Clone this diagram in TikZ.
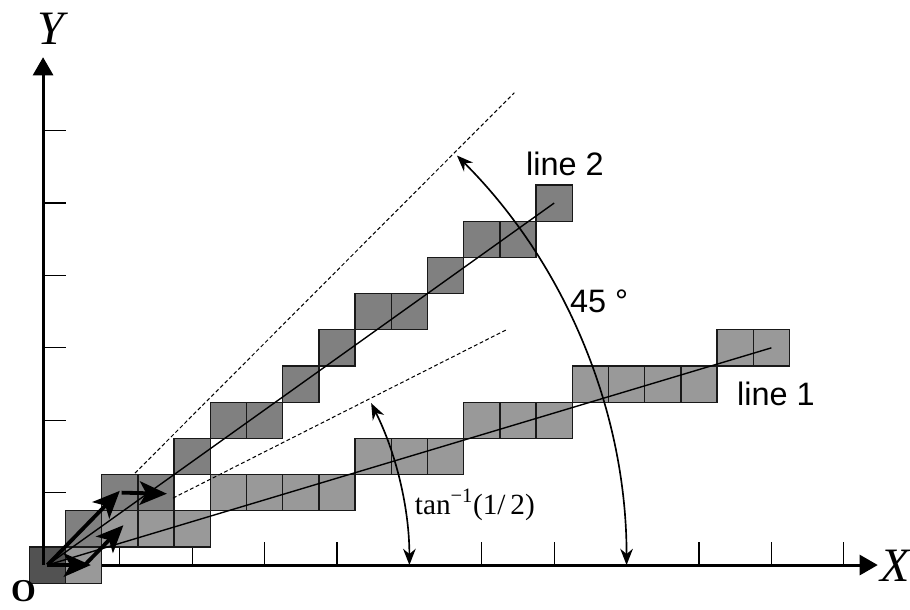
\documentclass[tikz,border=0pt]{standalone}
\usepackage{fontspec}
\setmainfont{Liberation Serif}
\setsansfont{Liberation Sans}
\usetikzlibrary{arrows.meta}

\definecolor{pixdark}{gray}{0.32}
\definecolor{pixmid}{gray}{0.5}
\definecolor{pixlight}{gray}{0.6}

\begin{document}
\begin{tikzpicture}[
  pix/.style={draw=black!90,line width=1pt,minimum size=1cm,inner sep=0pt,outer sep=0pt},
  axis/.style={line width=2.4pt,-{Triangle[length=5mm,width=5.5mm]}},
  axtick/.style={line width=1pt},
  chainarrow/.style={line width=3pt,-{Stealth[length=7.5mm,width=6.5mm,inset=1.8mm]}},
  guide/.style={dash pattern=on 3pt off 2pt,line width=0.8pt},
  segline/.style={line width=1.1pt},
  angarrow/.style={line width=1.3pt,{Stealth[length=4.5mm,width=3.5mm]}-{Stealth[length=4.5mm,width=3.5mm]}},
  lab/.style={inner sep=0pt,font=\sffamily\fontsize{25.5}{30}\selectfont}
]
\useasboundingbox (-1.31,-1.215) rectangle (23.83,15.61);

% axes and ticks
\coordinate (O) at (0,0);
\coordinate (ybase) at (-0.12,0);
\coordinate (xend) at (22.94,0);
\coordinate (yend) at (-0.12,14.03);
\draw[axis] (ybase) -- (xend);
\foreach \i in {2,4,...,22}
  \draw[axtick] (\i,0) -- ++(0,0.63);
\foreach \j in {2,4,...,12}
  \draw[axtick] (-0.12,\j) -- ++(0.63,0);

% pixels of line 1 and line 2
\node[pix,fill=pixdark] (p0) at (O) {};
\foreach \x/\y [count=\k] in {1/0,2/1,3/1,4/1,5/2,6/2,7/2,8/2,9/3,10/3,11/3,12/4,13/4,14/4,15/5,16/5,17/5,18/5,19/6,20/6}
  \node[pix,fill=pixlight] (a\k) at (\x,\y) {};
\foreach \x/\y [count=\k] in {1/1,2/2,3/2,4/3,5/4,6/4,7/5,8/6,9/7,10/7,11/8,12/9,13/9,14/10}
  \node[pix,fill=pixmid] (b\k) at (\x,\y) {};

\draw[axis] (ybase) -- (yend);

% ideal lines
\draw[segline] (O) -- (a20.center);
\draw[segline] (O) -- (b14.center);

% bounding directions
\coordinate (g45s) at (2.42,2.54);
\coordinate (g45e) at (12.9,13.05);
\coordinate (g26s) at (3.47,1.85);
\coordinate (g26e) at (12.72,6.52);
\draw[guide] (g45s) -- (g45e);
\draw[guide] (g26s) -- (g26e);

% angles
\coordinate (arc45) at (16,0);
\coordinate (arc26) at (10,0);
\draw[angarrow] (arc45) arc[start angle=0,end angle=45,radius=16];
\draw[angarrow] (arc26) arc[start angle=0,end angle=26.57,radius=10];

% chain steps
\coordinate (c1) at (1.2,0);
\coordinate (c2s) at (1.05,0.02);
\coordinate (c2) at (2.1,1.1);
\coordinate (c3) at (2,2.05);
\coordinate (c4s) at (2.05,2);
\coordinate (c4) at (3.3,1.97);
\draw[chainarrow] (O) -- (c1);
\draw[chainarrow] (c2s) -- (c2);
\draw[chainarrow] (O) -- (c3);
\draw[chainarrow] (c4s) -- (c4);

% labels
\node[lab,anchor=base west] (line2) at (13.22,10.77) {line 2};
\node[lab,anchor=base west] (line1) at (19.05,4.42) {line 1};
\node[lab,anchor=base west] (deg) at (14.43,6.99) {45 °};
\node[inner sep=0pt,font=\fontsize{23}{28}\selectfont] (tanlab) at (11.81,1.66) {tan\textsuperscript{−1}(1/\,2)};
\node[inner sep=0pt,font=\itshape\fontsize{37.7}{40}\selectfont] (xlab) at (23.41,-0.03) {X};
\node[inner sep=0pt,font=\itshape\fontsize{37.7}{40}\selectfont] (ylab) at (0.1,14.82) {Y};
\node[inner sep=0pt,font=\bfseries\fontsize{25}{30}\selectfont] (olab) at (-0.66,-0.72) {O};
\end{tikzpicture}
\end{document}
